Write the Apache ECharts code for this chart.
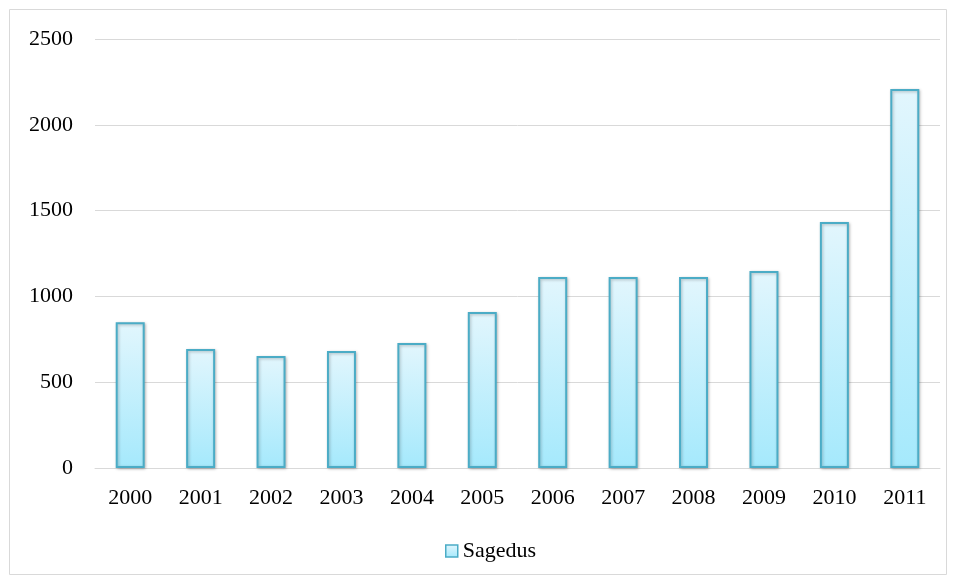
<!DOCTYPE html>
<html><head><meta charset="utf-8">
<script src="https://cdn.jsdelivr.net/npm/echarts@6/dist/echarts.min.js"></script>
<style>html,body{margin:0;padding:0;background:#fff}#c{width:956px;height:581px}</style>
</head><body><div id="c"></div>
<script>
const categories = ['2000','2001','2002','2003','2004','2005','2006','2007','2008','2009','2010','2011'];
const sagedus = [850, 693, 653, 682, 728, 909, 1113, 1113, 1113, 1148, 1433, 2208];
const yTicks = [0, 500, 1000, 1500, 2000, 2500];

const chart = echarts.init(document.getElementById('c'));
const font = 'Liberation Serif, Times New Roman, serif';
const grad = new echarts.graphic.LinearGradient(0,0,0,1,[{offset:0,color:'#e2f6fd'},{offset:1,color:'#a5e9fc'}]);
chart.setOption({
  animation:false,
  graphic:[{type:'rect',shape:{x:9.5,y:9.5,width:937,height:565},style:{fill:'none',stroke:'#d9d9d9',lineWidth:1},silent:true}],
  grid:{left:95,right:16,top:39,bottom:113},
  legend:{data:['Sagedus'],top:535,left:440,itemWidth:12,itemHeight:12,itemGap:5,
    textStyle:{fontFamily:font,fontSize:22,color:'#000'},icon:'rect',
    itemStyle:{color:grad,borderColor:'#4bacc6',borderWidth:1.5}},
  xAxis:{type:'category',data:categories,
    axisLine:{lineStyle:{color:'#d9d9d9'}},axisTick:{show:false},
    axisLabel:{fontFamily:font,fontSize:22,color:'#000',margin:19}},
  yAxis:{type:'value',min:yTicks[0],max:yTicks[yTicks.length-1],interval:500,
    axisLine:{show:false},axisTick:{show:false},
    splitLine:{lineStyle:{color:'#d9d9d9',width:1}},
    axisLabel:{fontFamily:font,fontSize:22,color:'#000',margin:22,formatter:v=>String(v)}},
  series:[{name:'Sagedus',type:'bar',data:sagedus,barWidth:29,
    itemStyle:{color:grad,borderColor:'#4bacc6',borderWidth:2,shadowColor:'rgba(0,0,0,0.25)',shadowBlur:3,shadowOffsetX:1,shadowOffsetY:1}}]
});
</script></body></html>
